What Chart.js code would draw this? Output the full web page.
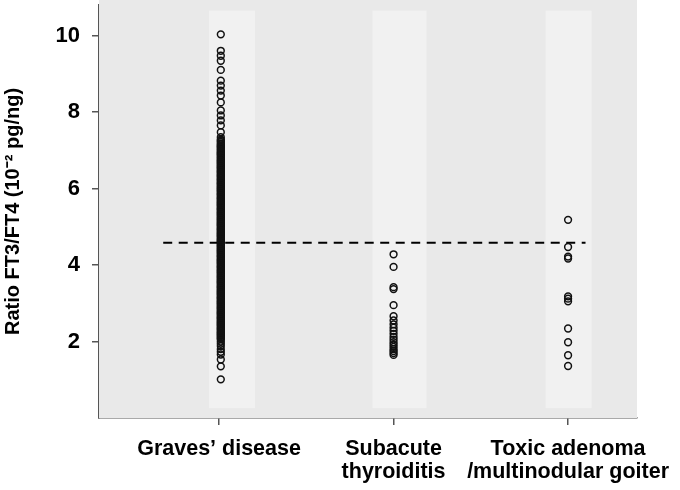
<!DOCTYPE html>
<html>
<head>
<meta charset="utf-8">
<script src="https://cdn.jsdelivr.net/npm/chart.js@4"></script>
<style>
  html, body { margin: 0; padding: 0; background: #fff; }
  #wrap { width: 680px; height: 490px; }
</style>
</head>
<body>
<div id="wrap"><canvas id="grafico" width="680" height="490"></canvas></div>
<script>
// categories (x = 1, 2, 3)
const categorias = [
  ['Graves\u2019 disease'],
  ['Subacute', 'thyroiditis'],
  ['Toxic adenoma', '/multinodular goiter']
];
const yTicks = [2, 4, 6, 8, 10];

// ratio FT3/FT4 (Graves' column is a dense stack)
const graves = [
  10.03, 9.60, 9.47, 9.34, 9.10, 8.82, 8.69, 8.56, 8.43, 8.25, 8.04, 7.91, 7.78, 7.65, 7.47, 7.34,
  7.28, 7.22, 7.15, 7.10, 7.04, 6.98, 6.93, 6.88, 6.82, 6.76, 6.71, 6.66, 6.60, 6.55, 6.49, 6.44,
  6.38, 6.33, 6.27, 6.22, 6.16, 6.11, 6.05, 6.00, 5.95, 5.89, 5.84, 5.78, 5.73, 5.67, 5.62, 5.57,
  5.51, 5.46, 5.40, 5.35, 5.30, 5.24, 5.19, 5.13, 5.08, 5.03, 4.97, 4.92, 4.86, 4.81, 4.76, 4.70,
  4.65, 4.60, 4.54, 4.49, 4.43, 4.38, 4.33, 4.27, 4.22, 4.16, 4.11, 4.06, 4.00, 3.95, 3.89, 3.84,
  3.79, 3.73, 3.68, 3.62, 3.57, 3.52, 3.46, 3.41, 3.35, 3.30, 3.25, 3.19, 3.14, 3.08, 3.03, 2.98,
  2.92, 2.87, 2.81, 2.76, 2.71, 2.65, 2.60, 2.54, 2.49, 2.44, 2.38, 2.33, 2.27, 2.22, 2.17, 2.11,
  2.06, 2.00, 1.94, 1.88, 1.80, 1.73, 1.66, 1.53, 1.35, 1.01,
  7.25, 7.18, 7.12, 7.07, 7.01, 6.95, 6.90, 6.85, 6.79, 6.73, 6.68, 6.63, 6.57, 6.52, 6.46, 6.41,
  6.35, 6.30, 6.24, 6.19, 6.13, 6.08, 6.02, 5.97, 5.92, 5.86, 5.81, 5.75, 5.70, 5.64, 5.59, 5.54,
  5.48, 5.43, 5.37, 5.32, 5.27, 5.21, 5.16, 5.10, 5.05, 5.00, 4.94, 4.89, 4.83, 4.78, 4.73, 4.67,
  4.62, 4.57, 4.51, 4.46, 4.40, 4.35, 4.30, 4.24, 4.19, 4.13, 4.08, 4.03, 3.97, 3.92, 3.86, 3.81,
  3.76, 3.70, 3.65, 3.59, 3.54, 3.49, 3.43, 3.38, 3.32, 3.27, 3.22, 3.16, 3.11, 3.05, 3.00, 2.95,
  2.89, 2.84, 2.78, 2.73, 2.68, 2.62, 2.57, 2.51, 2.46, 2.41, 2.35, 2.30, 2.24, 2.19, 2.14, 2.08
];
const subaguda = [
  4.28, 3.95, 3.42, 3.37, 2.95, 2.66, 2.55, 2.45, 2.36, 2.28, 2.20, 2.12, 2.05,
  1.98, 1.92, 1.86, 1.80, 1.75, 1.70, 1.65
];
const toxico = [5.18, 4.47, 4.22, 4.17, 3.18, 3.12, 3.05, 2.34, 1.98, 1.64, 1.36];

// cut-off line
const corte = 4.58;
const corteX = [0.68, 3.10];

const pontos = (vals, x) => vals.map(v => ({ x: x, y: v }));

// gray plot background and lighter column bands
const fundo = {
  id: 'fundo',
  beforeDatasetsDraw(chart) {
    const { ctx, chartArea: a, scales } = chart;
    ctx.save();
    ctx.fillStyle = '#e9e9e9';
    ctx.fillRect(a.left, 0, a.right - a.left, a.bottom);
    ctx.fillStyle = '#f1f1f1';
    const bandas = [[1.074, 23], [2.034, 27], [3.003, 23]];
    const yTop = scales.y.getPixelForValue(10.65);
    const yBot = scales.y.getPixelForValue(0.26);
    bandas.forEach(([c, hw]) => {
      const px = scales.x.getPixelForValue(c);
      ctx.fillRect(px - hw, yTop, hw * 2, yBot - yTop);
    });
    ctx.restore();
  }
};

const estiloPonto = {
  type: 'scatter',
  pointStyle: 'circle',
  pointRadius: 3.4,
  pointHoverRadius: 3.4,
  borderColor: '#111',
  backgroundColor: 'rgba(0,0,0,0)',
  borderWidth: 1.5
};

const fonte = 'Liberation Sans, Arial, sans-serif';

new Chart(document.getElementById('grafico').getContext('2d'), {
  data: {
    datasets: [
      { ...estiloPonto, data: pontos(graves, 1.01) },
      { ...estiloPonto, data: pontos(subaguda, 2) },
      { ...estiloPonto, data: pontos(toxico, 3) },
      {
        type: 'line',
        data: corteX.map(x => ({ x: x, y: corte })),
        borderColor: '#000',
        borderWidth: 2,
        borderDash: [9, 6.5],
        pointRadius: 0,
        fill: false
      }
    ]
  },
  options: {
    responsive: false,
    animation: false,
    layout: { padding: { top: 2, right: 43, left: 0, bottom: 0 } },
    plugins: { legend: { display: false }, tooltip: { enabled: false } },
    scales: {
      x: {
        type: 'linear',
        min: 0.312,
        max: 3.395,
        afterBuildTicks: s => { s.ticks = [1, 2, 3].map(v => ({ value: v })); },
        afterFit: s => { s.height = 72; s.paddingLeft = 0; s.paddingRight = 0; },
        border: { display: true, color: '#555', width: 1.5 },
        grid: { drawOnChartArea: false, drawTicks: true, tickLength: 7, color: '#555', lineWidth: 1.5 },
        ticks: {
          autoSkip: false,
          maxRotation: 0,
          padding: 12,
          color: '#000',
          font: { family: fonte, size: 21.5, weight: 'bold', lineHeight: 1.08 },
          callback: v => categorias[v - 1]
        }
      },
      y: {
        min: 0,
        max: 10.8,
        afterBuildTicks: s => { s.ticks = yTicks.map(v => ({ value: v })); },
        afterFit: s => { s.width = 99; s.paddingTop = 0; s.paddingBottom = 0; },
        border: { display: true, color: '#555', width: 1.5 },
        grid: { drawOnChartArea: false, drawTicks: true, tickLength: 7, color: '#555', lineWidth: 1.5 },
        ticks: {
          padding: 12,
          color: '#000',
          font: { family: fonte, size: 22, weight: 'bold' }
        },
        title: {
          display: true,
          text: 'Ratio FT3/FT4 (10\u207B\u00B2 pg/ng)',
          color: '#000',
          padding: { top: 1, bottom: 0 },
          font: { family: fonte, size: 20, weight: 'bold' }
        }
      }
    }
  },
  plugins: [fundo]
});
</script>
</body>
</html>
